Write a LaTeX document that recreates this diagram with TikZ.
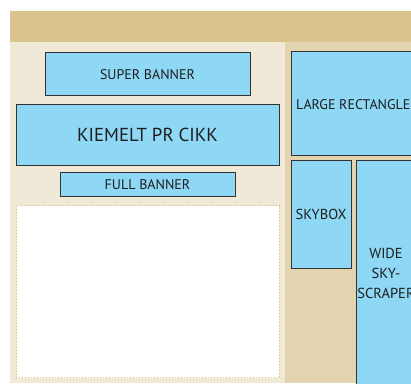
\documentclass[tikz,border=0pt]{standalone}
\usepackage{fontspec}
\setmainfont{PT Sans}
\definecolor{topbar}{HTML}{D9C48E}
\definecolor{leftpanel}{HTML}{F1E9D7}
\definecolor{rightpanel}{HTML}{E3D4AF}
\definecolor{adblue}{HTML}{8ED8F5}
\definecolor{adborder}{HTML}{333333}
\definecolor{dotline}{HTML}{DDBF7A}
\definecolor{adtext}{HTML}{1E1E1E}
\begin{document}
\begin{tikzpicture}[x=1pt,y=-1pt,
  adbox/.style={draw=adborder,line width=1pt,fill=adblue},
  adlabel/.style={text=adtext,inner sep=0pt,align=center}]
\useasboundingbox (0,0) rectangle (411,383);
\clip (0,0) rectangle (411,383);
\fill[white] (0,0) rectangle (411,383);
% panels
\fill[topbar] (10,11) rectangle (411,42);
\fill[leftpanel] (10,42) rectangle (285,383);
\fill[rightpanel] (285,42) rectangle (411,383);
% content area
\draw[fill=white,draw=dotline,line width=1pt,dotted] (16.5,205.5) rectangle (279,377.5);
% ad boxes
\draw[adbox] (45,52) rectangle (250,95);
\node[adlabel,font=\fontsize{14}{16}\selectfont] (super) at (147.5,74.5) {SUPER BANNER};
\draw[adbox] (16,104) rectangle (279,165);
\node[adlabel,font=\fontsize{18.8}{21}\selectfont] (kiemelt) at (147.5,135) {KIEMELT PR CIKK};
\draw[adbox] (60,172) rectangle (235,196);
\node[adlabel,font=\fontsize{14}{16}\selectfont] (full) at (147.5,184.5) {FULL BANNER};
\draw[adbox] (291,51) rectangle (420,155);
\node[adlabel,font=\fontsize{14}{16}\selectfont,anchor=west] (large) at (296,104.5) {LARGE RECTANGLE};
\draw[adbox] (291,160) rectangle (351,268);
\node[adlabel,font=\fontsize{14.5}{17}\selectfont] (skybox) at (321,214.5) {SKYBOX};
\draw[adbox] (356,160) rectangle (420,390);
\node[adlabel,font=\fontsize{14.5}{20}\selectfont] (wide) at (386,273) {WIDE\\SKY-\\SCRAPER};
\end{tikzpicture}
\end{document}
